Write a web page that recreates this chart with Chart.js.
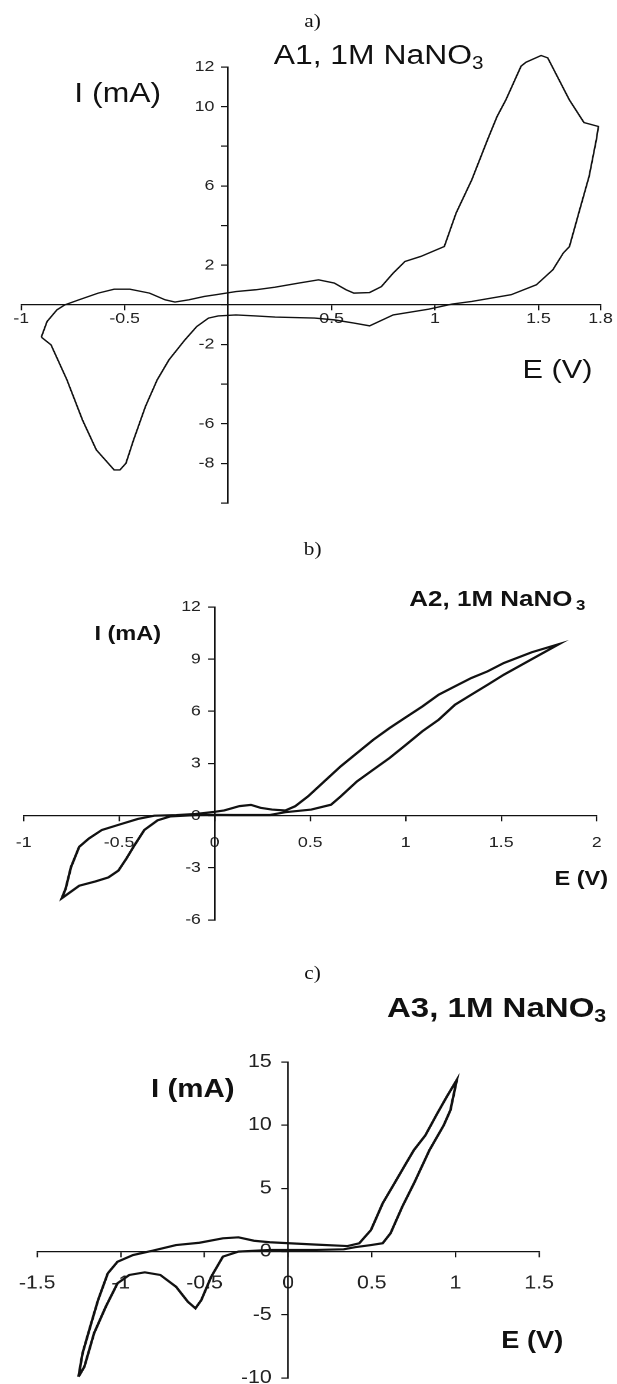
<!DOCTYPE html>
<html>
<head>
<meta charset="utf-8">
<script src="https://cdn.jsdelivr.net/npm/chart.js@4/dist/chart.umd.min.js"></script>
<style>
  body { margin: 0; background: #fff; width: 617px; height: 1384px; position: relative; overflow: hidden; }
  /* the scanned figure is stretched sideways, so the whole sheet is laid out at 523px and widened */
  #sheet { position: absolute; left: 0; top: 0; width: 523px; height: 1384px; transform: scaleX(1.1797); transform-origin: 0 0; }
  canvas { position: absolute; left: 0; }
  .t { position: absolute; line-height: 1; color: #111; font-family: "Liberation Sans", Arial, sans-serif; white-space: nowrap; }
  .cap { position: absolute; line-height: 1; width: 40px; text-align: center; font-family: "Liberation Serif", "Times New Roman", serif; font-size: 18px; color: #111; }
  sub { font-size: 0.65em; vertical-align: -0.28em; line-height: 0; }
</style>
</head>
<body>
<div id="sheet">
<div class="cap" style="left:245px; top:12px;">a)</div>
<div class="cap" style="left:245px; top:540px;">b)</div>
<div class="cap" style="left:245px; top:964px;">c)</div>

<canvas id="cvA" width="523" height="520" style="top:0px"></canvas>
<canvas id="cvB" width="523" height="420" style="top:520px"></canvas>
<canvas id="cvC" width="523" height="470" style="top:930px"></canvas>

<div class="t" style="left:232px; top:42px; font-size:27px;">A1, 1M NaNO<sub>3</sub></div>
<div class="t" style="left:63px; top:80px; font-size:27px;">I (mA)</div>
<div class="t" style="left:443px; top:356px; font-size:26px;">E (V)</div>

<div class="t" style="left:347px; top:588px; font-size:22px; font-weight:bold;">A2, 1M NaNO<sub style="margin-left:3px">3</sub></div>
<div class="t" style="left:80px; top:623px; font-size:20px; font-weight:bold;">I (mA)</div>
<div class="t" style="left:470px; top:868px; font-size:20px; font-weight:bold;">E (V)</div>

<div class="t" style="left:328px; top:994px; font-size:28px; font-weight:bold;">A3, 1M NaNO<sub>3</sub></div>
<div class="t" style="left:128px; top:1076px; font-size:25px; font-weight:bold;">I (mA)</div>
<div class="t" style="left:425px; top:1329px; font-size:23px; font-weight:bold;">E (V)</div>
</div>

<script>
// --- panel a: A1 ---
const potA = [-0.903, -0.875, -0.827, -0.789, -0.722, -0.628, -0.551, -0.475, -0.380, -0.304,
  -0.257, -0.190, -0.115, -0.058, 0.038, 0.133, 0.227, 0.342, 0.437, 0.513,
  0.570, 0.608, 0.684, 0.741, 0.798, 0.855, 0.931, 0.988, 1.045, 1.102,
  1.178, 1.254, 1.300, 1.343, 1.416, 1.440, 1.513, 1.545, 1.649, 1.720, 1.790,
  1.780, 1.745, 1.695, 1.650, 1.620, 1.570, 1.490, 1.368, 1.178, 1.083,
  0.969, 0.798, 0.684, 0.608, 0.513, 0.418, 0.227, 0.133, 0.038, -0.048,
  -0.095, -0.152, -0.209, -0.286, -0.343, -0.400, -0.457, -0.494, -0.523, -0.551,
  -0.637, -0.704, -0.779, -0.856, -0.903];
const curA = [-1.63, -0.84, -0.25, 0, 0.25, 0.59, 0.79, 0.79, 0.59, 0.25,
  0.14, 0.25, 0.42, 0.51, 0.67, 0.76, 0.89, 1.10, 1.26, 1.10,
  0.76, 0.59, 0.62, 0.92, 1.60, 2.19, 2.44, 2.69, 2.94, 4.63,
  6.31, 8.33, 9.50, 10.35, 12.04, 12.24, 12.58, 12.46, 10.35, 9.20, 9.00,
  8.33, 6.48, 4.63, 2.94, 2.61, 1.77, 1.01, 0.51, 0.17, 0.04,
  -0.22, -0.51, -1.06, -0.92, -0.76, -0.67, -0.62, -0.56, -0.51, -0.56,
  -0.67, -1.10, -1.77, -2.78, -3.79, -5.14, -6.82, -8.0, -8.33, -8.33,
  -7.32, -5.81, -3.79, -2.02, -1.63];
const xTicksA = [-1, -0.5, 0.5, 1, 1.5, 1.8];
const yTicksA = [-10, -8, -6, -4, -2, 0, 2, 4, 6, 8, 10, 12];
const yLabelsA = [12, 10, 6, 2, -2, -6, -8];

// --- panel b: A2 ---
const potB = [0.0, 0.10, 0.19, 0.29, 0.37, 0.506, 0.609, 0.660, 0.745, 0.831,
  0.916, 1.002, 1.087, 1.173, 1.258, 1.344, 1.429, 1.514, 1.660, 1.803,
  1.660, 1.514, 1.429, 1.344, 1.258, 1.173, 1.087, 1.002, 0.916, 0.831,
  0.745, 0.660, 0.574, 0.489, 0.421, 0.37, 0.30, 0.24, 0.19, 0.13,
  0.05, 0.0, -0.10, -0.20, -0.316, -0.402, -0.504, -0.590, -0.658, -0.709,
  -0.752, -0.78, -0.80,
  -0.709, -0.624, -0.556, -0.504, -0.462, -0.419, -0.368, -0.299, -0.231, -0.094, 0.0];
const curB = [0.05, 0.04, 0.04, 0.04, 0.2, 0.35, 0.63, 1.11, 1.97, 2.65,
  3.32, 4.08, 4.85, 5.52, 6.38, 6.96, 7.53, 8.11, 9.0, 9.87,
  9.4, 8.78, 8.30, 7.92, 7.44, 6.96, 6.28, 5.67, 5.04, 4.37,
  3.60, 2.84, 1.97, 1.11, 0.54, 0.3, 0.35, 0.45, 0.62, 0.55,
  0.3, 0.22, 0.1, 0.03, 0, -0.19, -0.53, -0.82, -1.31, -1.79,
  -2.96, -4.2, -4.75,
  -4.03, -3.78, -3.55, -3.16, -2.47, -1.69, -0.82, -0.27, -0.04, 0.04, 0.05];
const xTicksB = [-1, -0.5, 0, 0.5, 1, 1.5, 2];
const yTicksB = [-6, -3, 0, 3, 6, 9, 12];

// --- panel c: A3 ---
const potC = [-1.253, -1.229, -1.183, -1.136, -1.078, -1.020, -0.927, -0.810, -0.670, -0.530,
  -0.390, -0.297, -0.204, -0.110, 0.006, 0.169, 0.355, 0.425, 0.495, 0.565,
  0.635, 0.705, 0.752, 0.82, 0.89, 0.95, 1.008,
  0.97, 0.93, 0.845, 0.752, 0.682, 0.612, 0.565, 0.495, 0.40, 0.332,
  0.169, -0.110, -0.297, -0.390, -0.460, -0.519, -0.554, -0.600, -0.670, -0.764,
  -0.857, -0.950, -1.020, -1.090, -1.160, -1.218, -1.253];
const curC = [-9.90, -8.05, -5.94, -3.83, -1.72, -0.80, -0.27, 0.07, 0.52, 0.70,
  1.05, 1.13, 0.86, 0.74, 0.66, 0.55, 0.44, 0.66, 1.71, 3.82,
  5.40, 6.99, 8.04, 9.2, 10.9, 12.3, 13.58,
  11.2, 10.0, 8.04, 5.40, 3.55, 1.45, 0.66, 0.52, 0.35, 0.18,
  0.13, 0.13, 0, -0.40, -1.99, -3.83, -4.49, -3.96, -2.78, -1.85,
  -1.64, -1.85, -2.51, -4.36, -6.46, -9.11, -9.90];
const xTicksC = [-1.5, -1, -0.5, 0, 0.5, 1, 1.5];
const yTicksC = [-10, -5, 0, 5, 10, 15];

function toPoints(xs, ys) {
  return xs.map((x, i) => ({ x: x, y: ys[i] }));
}

// one cyclic voltammogram with the axes crossing at zero
function makeCV(id, cfg) {
  const axisFont = { family: "'Liberation Sans', Arial, sans-serif", size: cfg.fontSize };
  const gridOpts = { display: true, drawOnChartArea: false, drawTicks: true, tickLength: 5, color: "#111", lineWidth: 1.2 };
  return new Chart(document.getElementById(id), {
    type: "scatter",
    data: {
      datasets: [{
        data: toPoints(cfg.xs, cfg.ys),
        showLine: true,
        borderColor: "#111",
        borderWidth: cfg.lineWidth,
        pointRadius: 0,
        tension: 0,
        clip: false
      }]
    },
    options: {
      responsive: false,
      animation: false,
      devicePixelRatio: 2,
      layout: { padding: cfg.padding },
      plugins: { legend: { display: false }, tooltip: { enabled: false } },
      scales: {
        x: {
          type: "linear",
          min: cfg.xMin, max: cfg.xMax,
          position: { y: 0 },
          grid: gridOpts,
          border: { display: true, color: "#111", width: 1.3 },
          afterBuildTicks: axis => { axis.ticks = cfg.xTicks.map(v => ({ value: v })); },
          ticks: { autoSkip: false, maxRotation: 0, padding: cfg.xPad, color: "#222", font: axisFont,
                   callback: v => String(v) }
        },
        y: {
          type: "linear",
          min: cfg.yMin, max: cfg.yMax,
          position: { x: 0 },
          grid: gridOpts,
          border: { display: true, color: "#111", width: 1.3 },
          afterBuildTicks: axis => { axis.ticks = cfg.yTicks.map(v => ({ value: v })); },
          // centred y axes put the label right on the line, so pad with trailing spaces
          ticks: { autoSkip: false, color: "#222", font: axisFont,
                   callback: v => (cfg.yLabels.includes(v) ? String(v) + "\u2002 " : "") }
        }
      }
    }
  });
}

makeCV("cvA", {
  xs: potA, ys: curA, xMin: -1, xMax: 1.8, yMin: -10, yMax: 12,
  xTicks: xTicksA, yTicks: yTicksA, yLabels: yLabelsA,
  fontSize: 15, lineWidth: 1.4, xPad: 0,
  padding: { left: 18, right: 14, top: 67, bottom: 17 }
});

makeCV("cvB", {
  xs: potB, ys: curB, xMin: -1, xMax: 2, yMin: -6, yMax: 12,
  xTicks: xTicksB, yTicks: yTicksB, yLabels: yTicksB,
  fontSize: 15, lineWidth: 2.2, xPad: 13,
  padding: { left: 20, right: 7, top: 87, bottom: 20 }
});

makeCV("cvC", {
  xs: potC, ys: curC, xMin: -1.5, xMax: 1.5, yMin: -10, yMax: 15,
  xTicks: xTicksC, yTicks: yTicksC, yLabels: yTicksC,
  fontSize: 18, lineWidth: 2.2, xPad: 16,
  padding: { left: 28, right: 66, top: 132, bottom: 22 }
});
</script>
</body>
</html>
